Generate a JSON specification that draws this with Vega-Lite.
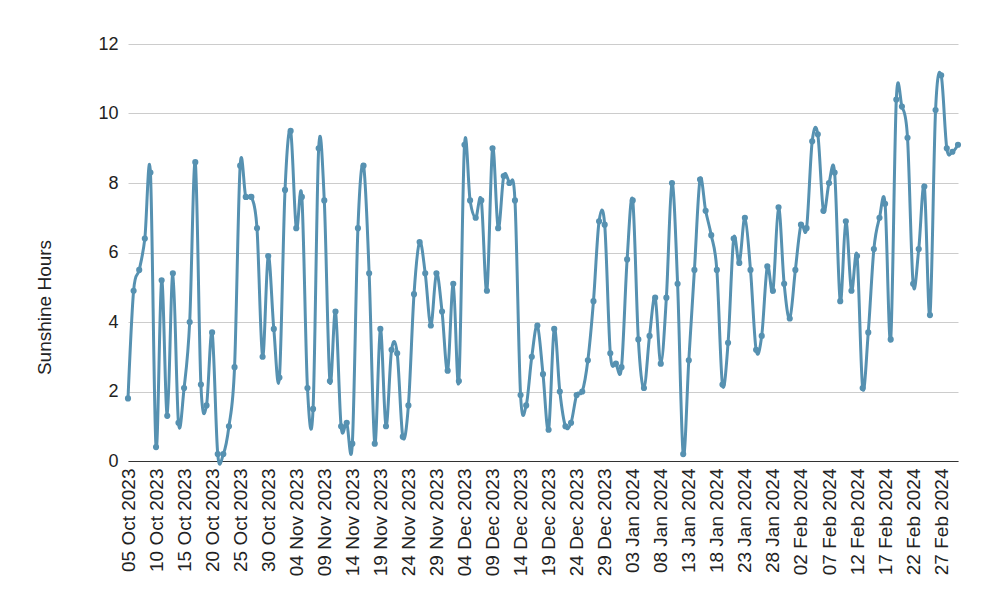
{
  "$schema": "https://vega.github.io/schema/vega-lite/v6.json",
  "autosize": {"type": "none"},
  "padding": {"left": 128, "top": 44, "right": 32, "bottom": 153},
  "width": 830,
  "height": 417,
  "background": "white",
  "config": {
    "view": {"stroke": null},
    "font": "Liberation Sans",
    "axis": {"labelFont": "Liberation Sans", "titleFont": "Liberation Sans", "labelColor": "#222222", "titleColor": "#222222"}
  },
  "data": {
    "values": [
      {"date": "2023-10-05", "hours": 1.8}, {"date": "2023-10-06", "hours": 4.9}, {"date": "2023-10-07", "hours": 5.5},
      {"date": "2023-10-08", "hours": 6.4}, {"date": "2023-10-09", "hours": 8.3}, {"date": "2023-10-10", "hours": 0.4},
      {"date": "2023-10-11", "hours": 5.2}, {"date": "2023-10-12", "hours": 1.3}, {"date": "2023-10-13", "hours": 5.4},
      {"date": "2023-10-14", "hours": 1.1}, {"date": "2023-10-15", "hours": 2.1}, {"date": "2023-10-16", "hours": 4.0},
      {"date": "2023-10-17", "hours": 8.6}, {"date": "2023-10-18", "hours": 2.2}, {"date": "2023-10-19", "hours": 1.6},
      {"date": "2023-10-20", "hours": 3.7}, {"date": "2023-10-21", "hours": 0.2}, {"date": "2023-10-22", "hours": 0.2},
      {"date": "2023-10-23", "hours": 1.0}, {"date": "2023-10-24", "hours": 2.7}, {"date": "2023-10-25", "hours": 8.5},
      {"date": "2023-10-26", "hours": 7.6}, {"date": "2023-10-27", "hours": 7.6}, {"date": "2023-10-28", "hours": 6.7},
      {"date": "2023-10-29", "hours": 3.0}, {"date": "2023-10-30", "hours": 5.9}, {"date": "2023-10-31", "hours": 3.8},
      {"date": "2023-11-01", "hours": 2.4}, {"date": "2023-11-02", "hours": 7.8}, {"date": "2023-11-03", "hours": 9.5},
      {"date": "2023-11-04", "hours": 6.7}, {"date": "2023-11-05", "hours": 7.6}, {"date": "2023-11-06", "hours": 2.1},
      {"date": "2023-11-07", "hours": 1.5}, {"date": "2023-11-08", "hours": 9.0}, {"date": "2023-11-09", "hours": 7.5},
      {"date": "2023-11-10", "hours": 2.3}, {"date": "2023-11-11", "hours": 4.3}, {"date": "2023-11-12", "hours": 1.0},
      {"date": "2023-11-13", "hours": 1.1}, {"date": "2023-11-14", "hours": 0.5}, {"date": "2023-11-15", "hours": 6.7},
      {"date": "2023-11-16", "hours": 8.5}, {"date": "2023-11-17", "hours": 5.4}, {"date": "2023-11-18", "hours": 0.5},
      {"date": "2023-11-19", "hours": 3.8}, {"date": "2023-11-20", "hours": 1.0}, {"date": "2023-11-21", "hours": 3.2},
      {"date": "2023-11-22", "hours": 3.1}, {"date": "2023-11-23", "hours": 0.7}, {"date": "2023-11-24", "hours": 1.6},
      {"date": "2023-11-25", "hours": 4.8}, {"date": "2023-11-26", "hours": 6.3}, {"date": "2023-11-27", "hours": 5.4},
      {"date": "2023-11-28", "hours": 3.9}, {"date": "2023-11-29", "hours": 5.4}, {"date": "2023-11-30", "hours": 4.3},
      {"date": "2023-12-01", "hours": 2.6}, {"date": "2023-12-02", "hours": 5.1}, {"date": "2023-12-03", "hours": 2.3},
      {"date": "2023-12-04", "hours": 9.1}, {"date": "2023-12-05", "hours": 7.5}, {"date": "2023-12-06", "hours": 7.0},
      {"date": "2023-12-07", "hours": 7.5}, {"date": "2023-12-08", "hours": 4.9}, {"date": "2023-12-09", "hours": 9.0},
      {"date": "2023-12-10", "hours": 6.7}, {"date": "2023-12-11", "hours": 8.2}, {"date": "2023-12-12", "hours": 8.0},
      {"date": "2023-12-13", "hours": 7.5}, {"date": "2023-12-14", "hours": 1.9}, {"date": "2023-12-15", "hours": 1.6},
      {"date": "2023-12-16", "hours": 3.0}, {"date": "2023-12-17", "hours": 3.9}, {"date": "2023-12-18", "hours": 2.5},
      {"date": "2023-12-19", "hours": 0.9}, {"date": "2023-12-20", "hours": 3.8}, {"date": "2023-12-21", "hours": 2.0},
      {"date": "2023-12-22", "hours": 1.0}, {"date": "2023-12-23", "hours": 1.1}, {"date": "2023-12-24", "hours": 1.9},
      {"date": "2023-12-25", "hours": 2.0}, {"date": "2023-12-26", "hours": 2.9}, {"date": "2023-12-27", "hours": 4.6},
      {"date": "2023-12-28", "hours": 6.9}, {"date": "2023-12-29", "hours": 6.8}, {"date": "2023-12-30", "hours": 3.1},
      {"date": "2023-12-31", "hours": 2.8}, {"date": "2024-01-01", "hours": 2.7}, {"date": "2024-01-02", "hours": 5.8},
      {"date": "2024-01-03", "hours": 7.5}, {"date": "2024-01-04", "hours": 3.5}, {"date": "2024-01-05", "hours": 2.1},
      {"date": "2024-01-06", "hours": 3.6}, {"date": "2024-01-07", "hours": 4.7}, {"date": "2024-01-08", "hours": 2.8},
      {"date": "2024-01-09", "hours": 4.7}, {"date": "2024-01-10", "hours": 8.0}, {"date": "2024-01-11", "hours": 5.1},
      {"date": "2024-01-12", "hours": 0.2}, {"date": "2024-01-13", "hours": 2.9}, {"date": "2024-01-14", "hours": 5.5},
      {"date": "2024-01-15", "hours": 8.1}, {"date": "2024-01-16", "hours": 7.2}, {"date": "2024-01-17", "hours": 6.5},
      {"date": "2024-01-18", "hours": 5.5}, {"date": "2024-01-19", "hours": 2.2}, {"date": "2024-01-20", "hours": 3.4},
      {"date": "2024-01-21", "hours": 6.4}, {"date": "2024-01-22", "hours": 5.7}, {"date": "2024-01-23", "hours": 7.0},
      {"date": "2024-01-24", "hours": 5.5}, {"date": "2024-01-25", "hours": 3.2}, {"date": "2024-01-26", "hours": 3.6},
      {"date": "2024-01-27", "hours": 5.6}, {"date": "2024-01-28", "hours": 4.9}, {"date": "2024-01-29", "hours": 7.3},
      {"date": "2024-01-30", "hours": 5.1}, {"date": "2024-01-31", "hours": 4.1}, {"date": "2024-02-01", "hours": 5.5},
      {"date": "2024-02-02", "hours": 6.8}, {"date": "2024-02-03", "hours": 6.7}, {"date": "2024-02-04", "hours": 9.2},
      {"date": "2024-02-05", "hours": 9.4}, {"date": "2024-02-06", "hours": 7.2}, {"date": "2024-02-07", "hours": 8.0},
      {"date": "2024-02-08", "hours": 8.3}, {"date": "2024-02-09", "hours": 4.6}, {"date": "2024-02-10", "hours": 6.9},
      {"date": "2024-02-11", "hours": 4.9}, {"date": "2024-02-12", "hours": 5.9}, {"date": "2024-02-13", "hours": 2.1},
      {"date": "2024-02-14", "hours": 3.7}, {"date": "2024-02-15", "hours": 6.1}, {"date": "2024-02-16", "hours": 7.0},
      {"date": "2024-02-17", "hours": 7.4}, {"date": "2024-02-18", "hours": 3.5}, {"date": "2024-02-19", "hours": 10.4},
      {"date": "2024-02-20", "hours": 10.2}, {"date": "2024-02-21", "hours": 9.3}, {"date": "2024-02-22", "hours": 5.1},
      {"date": "2024-02-23", "hours": 6.1}, {"date": "2024-02-24", "hours": 7.9}, {"date": "2024-02-25", "hours": 4.2},
      {"date": "2024-02-26", "hours": 10.1}, {"date": "2024-02-27", "hours": 11.1}, {"date": "2024-02-28", "hours": 9.0},
      {"date": "2024-02-29", "hours": 8.9}, {"date": "2024-03-01", "hours": 9.1}
    ]
  },
  "mark": {
    "type": "line",
    "interpolate": "cardinal",
    "color": "#5691b1",
    "strokeWidth": 3,
    "point": {"filled": true, "size": 38, "color": "#5691b1"}
  },
  "encoding": {
    "x": {
      "field": "date",
      "type": "temporal",
      "title": null,
      "scale": {"type": "utc", "nice": false},
      "axis": {
        "labelExpr": "utcFormat(datum.value, '%d %b %Y')",
        "values": [
          {"year": 2023, "month": 10, "date": 5, "utc": true},
          {"year": 2023, "month": 10, "date": 10, "utc": true},
          {"year": 2023, "month": 10, "date": 15, "utc": true},
          {"year": 2023, "month": 10, "date": 20, "utc": true},
          {"year": 2023, "month": 10, "date": 25, "utc": true},
          {"year": 2023, "month": 10, "date": 30, "utc": true},
          {"year": 2023, "month": 11, "date": 4, "utc": true},
          {"year": 2023, "month": 11, "date": 9, "utc": true},
          {"year": 2023, "month": 11, "date": 14, "utc": true},
          {"year": 2023, "month": 11, "date": 19, "utc": true},
          {"year": 2023, "month": 11, "date": 24, "utc": true},
          {"year": 2023, "month": 11, "date": 29, "utc": true},
          {"year": 2023, "month": 12, "date": 4, "utc": true},
          {"year": 2023, "month": 12, "date": 9, "utc": true},
          {"year": 2023, "month": 12, "date": 14, "utc": true},
          {"year": 2023, "month": 12, "date": 19, "utc": true},
          {"year": 2023, "month": 12, "date": 24, "utc": true},
          {"year": 2023, "month": 12, "date": 29, "utc": true},
          {"year": 2024, "month": 1, "date": 3, "utc": true},
          {"year": 2024, "month": 1, "date": 8, "utc": true},
          {"year": 2024, "month": 1, "date": 13, "utc": true},
          {"year": 2024, "month": 1, "date": 18, "utc": true},
          {"year": 2024, "month": 1, "date": 23, "utc": true},
          {"year": 2024, "month": 1, "date": 28, "utc": true},
          {"year": 2024, "month": 2, "date": 2, "utc": true},
          {"year": 2024, "month": 2, "date": 7, "utc": true},
          {"year": 2024, "month": 2, "date": 12, "utc": true},
          {"year": 2024, "month": 2, "date": 17, "utc": true},
          {"year": 2024, "month": 2, "date": 22, "utc": true},
          {"year": 2024, "month": 2, "date": 27, "utc": true}
        ],
        "labelAngle": 270,
        "labelAlign": "right",
        "labelBaseline": "middle",
        "labelFontSize": 19,
        "labelPadding": 7,
        "labelOverlap": false,
        "labelFlush": false,
        "ticks": false,
        "grid": false,
        "domainColor": "#333333",
        "domainWidth": 1.2
      }
    },
    "y": {
      "field": "hours",
      "type": "quantitative",
      "title": "Sunshine Hours",
      "scale": {"domain": [0, 12], "nice": false},
      "axis": {
        "values": [0, 2, 4, 6, 8, 10, 12],
        "labelFontSize": 18,
        "labelPadding": 10,
        "ticks": false,
        "domain": false,
        "gridColor": "#cccccc",
        "gridWidth": 1,
        "titleFontSize": 19,
        "titleFontWeight": "normal",
        "titleAngle": 270,
        "titleAlign": "center",
        "titleBaseline": "middle",
        "titleX": -84,
        "titleY": 263
      }
    }
  }
}
